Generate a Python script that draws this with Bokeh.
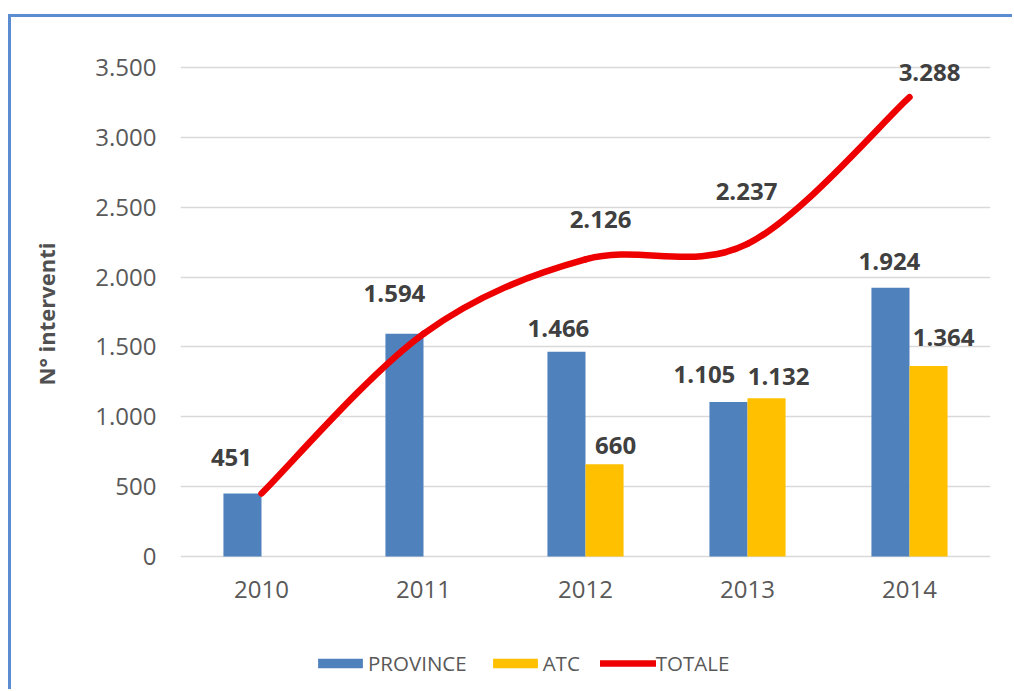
from bokeh.plotting import figure
from bokeh.models import (ColumnDataSource, FactorRange, Range1d, FixedTicker,
                          Legend, LegendItem, Title)
from bokeh.core.properties import value
from bokeh.embed import file_html
from bokeh.resources import INLINE

# ---------------- data ----------------
years = ["2010", "2011", "2012", "2013", "2014"]
province = [451, 1594, 1466, 1105, 1924]
atc = [None, None, 660, 1132, 1364]
totale = [451, 1594, 2126, 2237, 3288]
totale_labelled = ["2012", "2013", "2014"]
y_ticks = [0, 500, 1000, 1500, 2000, 2500, 3000, 3500]
y_tick_labels = ["0", "500", "1.000", "1.500", "2.000", "2.500", "3.000", "3.500"]
series_names = ["PROVINCE", "ATC", "TOTALE"]
y_title = "N° interventi"

# ---------------- styles / layout ----------------
BLUE = "#4F81BD"
YELLOW = "#FFC000"
RED = "#EE0000"
FRAME_BLUE = "#5B8CD1"
GRID = "#D9D9D9"
TICK_COL = "#595959"
LABEL_COL = "#404040"
FONT = "Open Sans"
BAR_W = 0.235

W, H = 1012, 689
FRAME_L, FRAME_R, FRAME_T = 180, 990, 20
ZERO_PX, TOP_TICK_PX = 556, 67     # pixel rows of the values 0 and 3500
AX_MIN, AX_MAX = 0, 3500
PX_PER_UNIT = (ZERO_PX - TOP_TICK_PX) / (AX_MAX - AX_MIN)
# the plotting frame is larger than the axis so that labels and legend are not clipped
Y_MIN = AX_MIN - (H - ZERO_PX) / PX_PER_UNIT
Y_MAX = AX_MAX + (TOP_TICK_PX - FRAME_T) / PX_PER_UNIT

# pixel offsets of the value labels (manually placed in the original)
prov_dx = [-11, -10, -8, -24, -1]
prov_dy = [-36, -40, -23, -28, -26]
atc_off = {"2012": (11, -19), "2013": (12, -22), "2014": (15, -28)}
tot_off = {"2012": (15, -40), "2013": (-1, -52), "2014": (20, -25)}


def fmt(v):
    return f"{v:,}".replace(",", ".")


bg = (f"linear-gradient({FRAME_BLUE},{FRAME_BLUE}) 8px 14px / 3px 100% no-repeat, "
      f"linear-gradient({FRAME_BLUE},{FRAME_BLUE}) 8px 14px / 100% 3px no-repeat, #ffffff")
p = figure(width=W, height=H, x_range=FactorRange(*years, range_padding=0),
           y_range=Range1d(Y_MIN, Y_MAX), output_backend="svg", toolbar_location=None,
           min_border_left=FRAME_L, min_border_right=W - FRAME_R, min_border_top=FRAME_T,
           min_border_bottom=0, styles={"background": bg})
p.outline_line_color = None
p.background_fill_color = None
p.border_fill_color = None

n = len(years)
centers = [i + 0.5 for i in range(n)]

# bars
prov_src = ColumnDataSource(dict(x=[c - BAR_W / 2 for c in centers], top=province))
atc_src = ColumnDataSource(dict(x=[c + BAR_W / 2 for c in centers],
                                top=[float("nan") if v is None else v for v in atc]))
rb = p.vbar(x="x", top="top", bottom=0, width=BAR_W, source=prov_src, fill_color=BLUE, line_color=None)
ry = p.vbar(x="x", top="top", bottom=0, width=BAR_W, source=atc_src, fill_color=YELLOW, line_color=None)

# smoothed total line (cubic Bezier through the data points)
pts = list(zip(centers, totale))
seg = dict(x0=[], y0=[], x1=[], y1=[], cx0=[], cy0=[], cx1=[], cy1=[])
for i in range(n - 1):
    p0 = pts[i - 1] if i > 0 else pts[i]
    p1 = pts[i]
    p2 = pts[i + 1]
    p3 = pts[i + 2] if i + 2 < n else pts[i + 1]
    seg["x0"].append(p1[0]); seg["y0"].append(p1[1])
    seg["x1"].append(p2[0]); seg["y1"].append(p2[1])
    seg["cx0"].append(p1[0] + (p2[0] - p0[0]) / 6); seg["cy0"].append(p1[1] + (p2[1] - p0[1]) / 6)
    seg["cx1"].append(p2[0] - (p3[0] - p1[0]) / 6); seg["cy1"].append(p2[1] - (p3[1] - p1[1]) / 6)
rl = p.bezier(x0="x0", y0="y0", x1="x1", y1="y1", cx0="cx0", cy0="cy0", cx1="cx1", cy1="cy1",
              source=ColumnDataSource(seg), line_color=RED, line_width=6.5, line_cap="round")

# value labels
lab = dict(x=[], y=[], t=[], dx=[], dy=[])
for i, v in enumerate(province):
    lab["x"].append(centers[i] - BAR_W / 2); lab["y"].append(v); lab["t"].append(fmt(v))
    lab["dx"].append(prov_dx[i]); lab["dy"].append(prov_dy[i])
for i, v in enumerate(atc):
    if v is None:
        continue
    dx, dy = atc_off[years[i]]
    lab["x"].append(centers[i] + BAR_W / 2); lab["y"].append(v); lab["t"].append(fmt(v))
    lab["dx"].append(dx); lab["dy"].append(dy)
for i, v in enumerate(totale):
    if years[i] not in totale_labelled:
        continue
    dx, dy = tot_off[years[i]]
    lab["x"].append(centers[i]); lab["y"].append(v); lab["t"].append(fmt(v))
    lab["dx"].append(dx); lab["dy"].append(dy)
p.text(x="x", y="y", text="t", x_offset="dx", y_offset="dy", source=ColumnDataSource(lab),
       text_align="center", text_baseline="middle", text_font=value(FONT),
       text_font_style="bold", text_font_size="24px", text_color=LABEL_COL)

# axes
p.yaxis.ticker = FixedTicker(ticks=y_ticks)
p.yaxis.major_label_overrides = {t: l for t, l in zip(y_ticks, y_tick_labels)}
for ax in (p.xaxis, p.yaxis):
    ax.axis_line_color = None
    ax.major_tick_line_color = None
    ax.minor_tick_line_color = None
    ax.major_tick_out = 0
    ax.major_tick_in = 0
    ax.major_label_text_font = FONT
    ax.major_label_text_font_size = "24px"
    ax.major_label_text_color = TICK_COL
p.yaxis.major_label_standoff = 24
p.xaxis.major_label_standoff = 24
p.xaxis.fixed_location = 0

# y-axis title, centred on the 0..3500 scale rather than on the (enlarged) frame
p.add_layout(Title(text=y_title, align="left", vertical_align="top", offset=304, standoff=59,
                   text_font=FONT, text_font_style="bold", text_font_size="22px",
                   text_color="#505050"), "left")

p.xgrid.grid_line_color = None
p.ygrid.ticker = FixedTicker(ticks=y_ticks)
p.ygrid.grid_line_color = GRID
p.ygrid.grid_line_width = 1.3

# legend
legend = Legend(items=[LegendItem(label=series_names[0], renderers=[rb]),
                       LegendItem(label=series_names[1], renderers=[ry]),
                       LegendItem(label=series_names[2], renderers=[rl])],
                orientation="horizontal", location=(312 - FRAME_L, 12))
legend.border_line_color = None
legend.background_fill_alpha = 0
legend.padding = 0
legend.margin = 0
legend.spacing = 20
legend.glyph_width = 56
legend.glyph_height = 12
legend.label_standoff = 0
legend.label_text_font = FONT
legend.label_text_font_size = "20.5px"
legend.label_text_color = TICK_COL
p.add_layout(legend)

open("out.html", "w").write(file_html(p, INLINE))
